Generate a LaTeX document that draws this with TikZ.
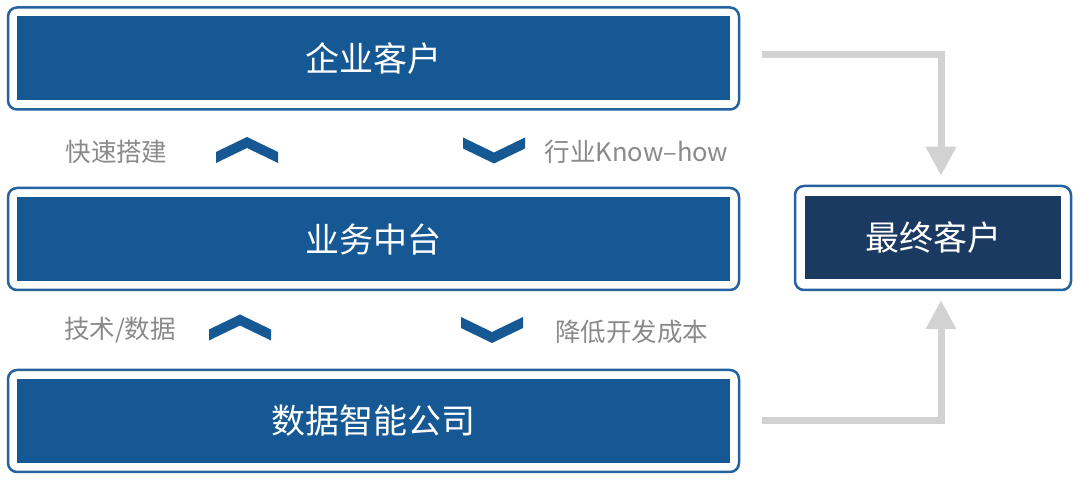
\documentclass[tikz,border=0pt]{standalone}
\usepackage{fontspec}
\setmainfont{Noto Sans CJK SC}
\usetikzlibrary{positioning}
\usetikzlibrary{calc,arrows.meta}

\definecolor{boxblue}{HTML}{165894}
\definecolor{boxline}{HTML}{2462A0}
\definecolor{navy}{HTML}{1B3A62}
\definecolor{labelgray}{HTML}{8A8A8A}
\definecolor{flowgray}{HTML}{D2D2D2}

\newcommand{\chevup}[2]{\fill[chev] (#1-31,#2-2) -- (#1,#2+13) -- (#1+31,#2-2) -- (#1+31,#2-13) -- (#1,#2+2) -- (#1-31,#2-13) -- cycle;}
\newcommand{\chevdown}[2]{\fill[chev] (#1-31,#2+2) -- (#1,#2-13) -- (#1+31,#2+2) -- (#1+31,#2+13) -- (#1,#2-2) -- (#1-31,#2+13) -- cycle;}

\begin{document}
\begin{tikzpicture}[x=1pt,y=1pt]
	\tikzset{
		outer box/.style= {draw=boxline, line width=2.5pt, rounded corners=9pt, fill=white, minimum width=731pt, minimum height=102pt},
		inner box/.style= {fill=boxblue, text=white, minimum width=713pt, minimum height=84pt, font=\fontsize{34}{40}\selectfont},
		side label/.style= {text=labelgray, font=\fontsize{25.5}{30}\selectfont},
		chev/.style= {fill=boxblue},
		flow/.style= {draw=flowgray, line width=7pt, -{Triangle[width=29pt,length=29pt]}, shorten >=9pt}
		}
		\useasboundingbox (0,0) rectangle (1080,482);
		\fill[white] (0,0) rectangle (1080,482);

		\path 	(373.5,423.5) node [name=enterprise, outer box] {}
				(373.5,243) node [name=bizmid, outer box] {}
				(373.5,61) node [name=datacorp, outer box] {};
		\path 	(enterprise) node [name=enterprise in, inner box] {企业客户}
				(bizmid) node [name=bizmid in, inner box] {业务中台}
				(datacorp) node [name=datacorp in, inner box] {数据智能公司};

		\path (933,244) node [name=final, outer box, minimum width=276pt, minimum height=104pt] {};
		\path (final) node [name=final in, inner box, fill=navy, minimum width=256pt, minimum height=83pt] {最终客户};

		\path 	(116.5,330) node [name=fastbuild, side label] {快速搭建}
				(636.5,330) node [name=knowhow, side label] {行业Know–how}
				(120,152) node [name=techdata, side label] {技术/数据}
				(631.5,150) node [name=lowcost, side label] {降低开发成本};

		\chevup{247}{332}
		\chevdown{494}{331.5}
		\chevup{240}{154.5}
		\chevdown{492}{152}

		\draw[flow] ([xshift=22pt,yshift=3.5pt]enterprise.east) -| ([xshift=8pt]final.north);
		\draw[flow] ([xshift=22pt,yshift=0pt]datacorp.east) -| ([xshift=8pt]final.south);
	\end{tikzpicture}
\end{document}
